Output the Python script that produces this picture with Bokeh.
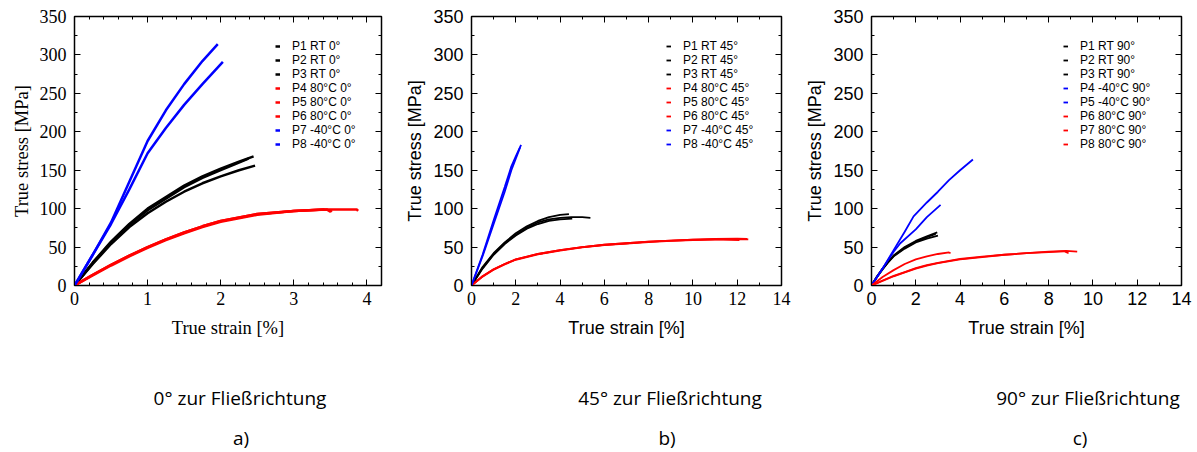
from bokeh.plotting import figure
from bokeh.layouts import row, column
from bokeh.models import (LinearAxis, SingleIntervalTicker, Legend, Range1d, Div)
from bokeh.embed import file_html
from bokeh.resources import INLINE

# ---------------- data: panel a (0 deg) ----------------
a_p1_x = [0, 0.25, 0.5, 0.75, 1.0, 1.25, 1.5, 1.75, 2.0, 2.25, 2.45]
a_p1_y = [0, 30, 57, 80, 100, 115, 130, 142, 152, 161, 168]
a_p2_x = [0, 0.25, 0.5, 0.75, 1.0, 1.25, 1.5, 1.75, 2.0, 2.25, 2.47]
a_p2_y = [0, 28, 54, 76, 94, 109, 122, 133, 142, 150, 156]
a_p3_x = [0, 0.25, 0.5, 0.75, 1.0, 1.25, 1.5, 1.75, 2.0, 2.2, 2.38]
a_p3_y = [0, 29, 56, 79, 98, 113, 128, 140, 150, 158, 165]
a_p4_x = [0, 0.25, 0.5, 0.75, 1.0, 1.25, 1.5, 1.75, 2.0, 2.5, 3.0, 3.42]
a_p4_y = [0, 14, 27, 39, 50, 60, 69, 77, 84, 93, 97, 99]
a_p5_x = [0, 0.25, 0.5, 0.75, 1.0, 1.25, 1.5, 1.75, 2.0, 2.5, 3.0, 3.45, 3.5, 3.52]
a_p5_y = [0, 13, 26, 38, 49, 59, 68, 76, 83, 92, 97, 99, 96, 98]
a_p6_x = [0, 0.25, 0.5, 0.75, 1.0, 1.25, 1.5, 1.75, 2.0, 2.5, 3.0, 3.4, 3.86, 3.88]
a_p6_y = [0, 14, 27, 39, 50, 60, 69, 77, 84, 93, 97, 99, 99, 97]
a_p7_x = [0, 0.25, 0.5, 0.75, 1.0, 1.25, 1.5, 1.75, 1.96]
a_p7_y = [0, 40, 82, 135, 188, 228, 262, 292, 314]
a_p8_x = [0, 0.25, 0.5, 0.75, 1.0, 1.25, 1.5, 1.75, 2.03]
a_p8_y = [0, 40, 80, 125, 172, 205, 235, 262, 291]

# ---------------- data: panel b (45 deg) ----------------
b_p1_x = [0, 0.5, 1.0, 1.5, 2.0, 2.5, 3.0, 3.5, 4.0, 4.4]
b_p1_y = [0, 24, 42, 56, 68, 77, 84, 89, 92, 93]
b_p2_x = [0, 0.5, 1.0, 1.5, 2.0, 2.5, 3.0, 3.5, 4.0, 4.55]
b_p2_y = [0, 22, 40, 54, 65, 74, 80, 84, 86, 87]
b_p3_x = [0, 0.5, 1.0, 1.5, 2.0, 2.5, 3.0, 3.5, 4.0, 4.5, 5.0, 5.37]
b_p3_y = [0, 23, 41, 55, 66, 75, 82, 86, 88, 89, 89, 88]
b_p4_x = [0, 0.5, 1, 1.5, 2, 3, 4, 5, 6, 7, 8, 9, 10, 11, 12, 12.45]
b_p4_y = [0, 12, 21, 28, 34, 41, 46, 50, 53, 55, 57, 58.5, 59.5, 60.5, 61, 60.5]
b_p5_x = [0, 0.5, 1, 1.5, 2, 3, 4, 5, 6, 7, 8, 9, 10, 11, 12.1]
b_p5_y = [0, 12, 21, 28, 34, 41, 46, 50, 53, 55, 57, 58.5, 59.5, 60, 59]
b_p6_x = [0, 0.5, 1, 1.5, 2, 3, 4, 5, 6, 7, 8, 9, 10, 11, 12, 12.5]
b_p6_y = [0, 11.5, 20.5, 27.5, 33.5, 40.5, 45.5, 49.5, 52.5, 54.5, 56.5, 58, 59, 60, 60.5, 60]
b_p7_x = [0, 0.5, 1.0, 1.5, 1.8, 2.0, 2.24]
b_p7_y = [0, 40, 85, 128, 155, 168, 183]
b_p8_x = [0, 0.5, 1.0, 1.5, 1.8, 2.0, 2.2]
b_p8_y = [0, 38, 80, 122, 150, 165, 180]

# ---------------- data: panel c (90 deg) ----------------
c_p1_x = [0, 0.25, 0.5, 0.75, 1.0, 1.5, 2.0, 2.5, 2.97]
c_p1_y = [0, 12, 22, 31, 39, 50, 58, 64, 69]
c_p2_x = [0, 0.25, 0.5, 0.75, 1.0, 1.5, 2.0, 2.5, 3.0]
c_p2_y = [0, 11, 21, 30, 38, 48, 56, 61, 65]
c_p3_x = [0, 0.25, 0.5, 0.75, 1.0, 1.5, 2.0, 2.5, 2.9]
c_p3_y = [0, 11.5, 21.5, 30.5, 38.5, 49, 57, 63, 67]
c_p4_x = [0, 0.5, 1.0, 1.5, 1.9, 2.5, 3.0, 3.5, 4.0, 4.58]
c_p4_y = [0, 22, 46, 70, 90, 108, 122, 137, 150, 164]
c_p5_x = [0, 0.5, 1.0, 1.3, 2.0, 2.5, 3.12]
c_p5_y = [0, 22, 44, 55, 73, 89, 105]
c_p6_x = [0, 0.5, 1.0, 1.5, 2.0, 2.5, 3.0, 3.5, 3.57]
c_p6_y = [0, 11, 20, 28, 34, 38, 41, 43, 42]
c_p7_x = [0, 0.5, 1.0, 1.5, 2.0, 2.5, 3.0, 4.0, 5.0, 6.0, 7.0, 8.0, 8.8, 9.29]
c_p7_y = [0, 6, 12, 17, 22, 26, 29, 34, 37, 40, 42, 44, 45, 44]
c_p8_x = [0, 0.5, 1.0, 1.5, 2.0, 2.5, 3.0, 4.0, 5.0, 6.0, 7.0, 8.0, 8.7, 8.9]
c_p8_y = [0, 6.5, 12.5, 17.5, 22.5, 26.5, 29.5, 34.5, 37.5, 40, 42, 43.5, 44.5, 42]

labels_a = ["P1 RT 0°", "P2 RT 0°", "P3 RT 0°", "P4 80°C 0°", "P5 80°C 0°",
            "P6 80°C 0°", "P7 -40°C 0°", "P8 -40°C 0°"]
labels_b = ["P1 RT 45°", "P2 RT 45°", "P3 RT 45°", "P4 80°C 45°", "P5 80°C 45°",
            "P6 80°C 45°", "P7 -40°C 45°", "P8 -40°C 45°"]
labels_c = ["P1 RT 90°", "P2 RT 90°", "P3 RT 90°", "P4 -40°C 90°", "P5 -40°C 90°",
            "P6 80°C 90°", "P7 80°C 90°", "P8 80°C 90°"]
colors_a = ["black", "black", "black", "red", "red", "red", "blue", "blue"]
colors_b = ["black", "black", "black", "red", "red", "red", "blue", "blue"]
colors_c = ["black", "black", "black", "blue", "blue", "red", "red", "red"]

captions = ["0° zur Fließrichtung", "45° zur Fließrichtung", "90° zur Fließrichtung"]
letters = ["a)", "b)", "c)"]

series_a = [(a_p1_x, a_p1_y), (a_p2_x, a_p2_y), (a_p3_x, a_p3_y), (a_p4_x, a_p4_y),
            (a_p5_x, a_p5_y), (a_p6_x, a_p6_y), (a_p7_x, a_p7_y), (a_p8_x, a_p8_y)]
series_b = [(b_p1_x, b_p1_y), (b_p2_x, b_p2_y), (b_p3_x, b_p3_y), (b_p4_x, b_p4_y),
            (b_p5_x, b_p5_y), (b_p6_x, b_p6_y), (b_p7_x, b_p7_y), (b_p8_x, b_p8_y)]
series_c = [(c_p1_x, c_p1_y), (c_p2_x, c_p2_y), (c_p3_x, c_p3_y), (c_p4_x, c_p4_y),
            (c_p5_x, c_p5_y), (c_p6_x, c_p6_y), (c_p7_x, c_p7_y), (c_p8_x, c_p8_y)]

SERIF = "Liberation Serif"
SANS = "Liberation Sans"
CAP_FONT = "Open Sans"

FIG_H = 345


def make_panel(series, labels, colors, xmax, xint, xminor, xtick_font, xlab_font,
               ylab_font, ytick_font, width, bl, br, lw, leg_x, lab_size):
    p = figure(width=width, height=FIG_H, output_backend="svg", toolbar_location=None,
               x_range=Range1d(0, xmax), y_range=Range1d(0, 350),
               min_border_left=bl, min_border_right=br, min_border_top=16,
               min_border_bottom=FIG_H - 16 - 269, x_axis_label="True strain [%]",
               y_axis_label="True stress [MPa]")
    p.xgrid.visible = False
    p.ygrid.visible = False
    p.outline_line_color = "black"
    p.outline_line_width = 1.5
    p.background_fill_color = "white"
    p.border_fill_color = "white"

    items = []
    for (xs, ys), lab, col in zip(series, labels, colors):
        r = p.line(xs, ys, line_color=col, line_width=lw)
        items.append((lab, [r]))

    xax = p.xaxis[0]
    yax = p.yaxis[0]
    xax.ticker = SingleIntervalTicker(interval=xint, num_minor_ticks=xminor)
    yax.ticker = SingleIntervalTicker(interval=50, num_minor_ticks=2)
    for ax in (xax, yax):
        ax.major_tick_in = 6
        ax.major_tick_out = 0
        ax.minor_tick_in = 3
        ax.minor_tick_out = 0
        ax.axis_line_color = None
        ax.major_tick_line_color = "black"
        ax.minor_tick_line_color = "black"
        ax.major_label_text_color = "black"
        ax.axis_label_text_color = "black"
        ax.axis_label_text_font_style = "normal"
        ax.axis_label_text_font_size = lab_size
    xax.major_label_text_font = xtick_font
    xax.major_label_text_font_size = "18px"
    yax.major_label_text_font = ytick_font
    yax.major_label_text_font_size = "18px"
    xax.axis_label_text_font = xlab_font
    yax.axis_label_text_font = ylab_font
    xax.major_label_standoff = 6
    yax.major_label_standoff = 8
    xax.axis_label_standoff = 10
    yax.axis_label_standoff = 5

    # mirrored inward ticks on the right and top
    rax = LinearAxis(ticker=SingleIntervalTicker(interval=50, num_minor_ticks=2))
    tax = LinearAxis(ticker=SingleIntervalTicker(interval=xint, num_minor_ticks=xminor))
    for ax in (rax, tax):
        ax.major_tick_in = 6
        ax.major_tick_out = 0
        ax.minor_tick_in = 3
        ax.minor_tick_out = 0
        ax.axis_line_color = None
        ax.major_label_text_font_size = "0px"
        ax.major_label_text_alpha = 0
        ax.major_label_standoff = 0
        ax.major_tick_line_color = "black"
        ax.minor_tick_line_color = "black"
    p.add_layout(rax, "right")
    p.add_layout(tax, "above")

    leg = Legend(items=items, location=(leg_x, 134), orientation="vertical")
    leg.background_fill_alpha = 0
    leg.border_line_color = None
    leg.padding = 0
    leg.margin = 0
    leg.spacing = 0
    leg.glyph_width = 5
    leg.glyph_height = 14
    leg.label_height = 14
    leg.label_standoff = 12
    leg.label_text_font = SANS
    leg.label_text_font_size = "12px"
    leg.label_text_color = "black"
    p.add_layout(leg, "center")
    return p


pa = make_panel(series_a, labels_a, colors_a, 4.2, 1, 5, SERIF, SERIF, SERIF, SERIF,
                400, 74, 19, 2.5, 201, "18.5px")
pb = make_panel(series_b, labels_b, colors_b, 14, 2, 2, SERIF, SANS, SANS, SANS,
                400, 71, 19, 1.8, 195, "18px")
pc = make_panel(series_c, labels_c, colors_c, 14, 2, 2, SANS, SANS, SANS, SANS,
                397, 71, 16, 1.8, 192, "18px")

# caption block below the three panels (centres in px relative to the block)
cap_pos = [(235, 48), (665, 48), (1083, 48)]
let_pos = [(236, 88), (662, 88), (1075, 88)]
parts = []
for txt, (cx, cy) in zip(captions, cap_pos):
    parts.append(
        f'<div style="position:absolute;left:{cx}px;top:{cy}px;transform:translate(-50%,-50%);'
        f'white-space:nowrap;line-height:1.2;font-family:\'{CAP_FONT}\';font-size:19px;color:#000;">{txt}</div>')
for txt, (cx, cy) in zip(letters, let_pos):
    parts.append(
        f'<div style="position:absolute;left:{cx}px;top:{cy}px;transform:translate(-50%,-50%);'
        f'white-space:nowrap;line-height:1.2;font-family:\'{CAP_FONT}\';font-size:19px;color:#000;">{txt}</div>')
html = ('<div style="position:relative;width:1197px;height:105px;">' + "".join(parts) + '</div>')
captions_div = Div(text=html, width=1197, height=105)

layout = column(row(pa, pb, pc, spacing=0), captions_div, spacing=0)
open("out.html", "w").write(file_html(layout, INLINE))
